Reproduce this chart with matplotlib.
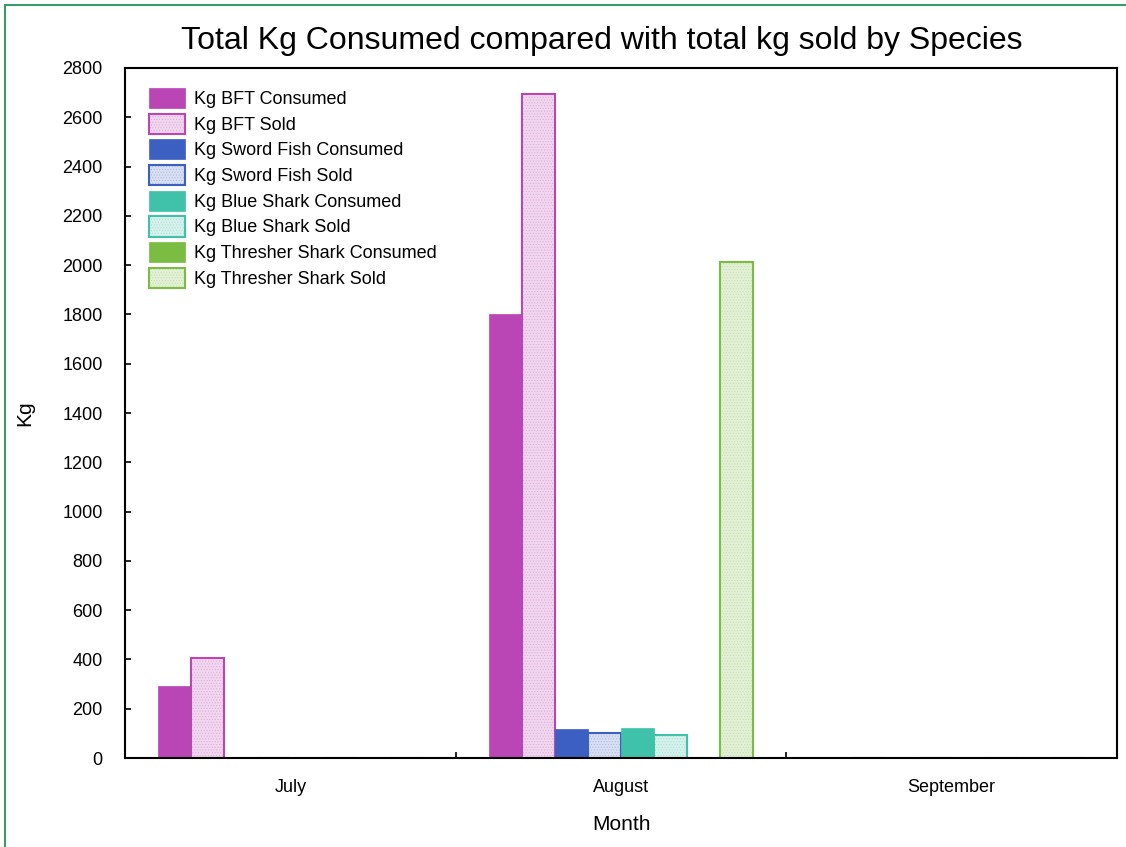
import numpy as np
import matplotlib.pyplot as plt
from matplotlib.patches import Rectangle

months = ["July", "August", "September"]
species = ["BFT", "Sword Fish", "Blue Shark", "Thresher Shark"]
consumed = {
    "BFT": [292, 1802, 0],
    "Sword Fish": [0, 116, 0],
    "Blue Shark": [0, 122, 0],
    "Thresher Shark": [0, 0, 0],
}
sold = {
    "BFT": [406, 2695, 0],
    "Sword Fish": [0, 100, 0],
    "Blue Shark": [0, 92, 0],
    "Thresher Shark": [0, 2012, 0],
}
dark = ["#b946b4", "#3c5fc2", "#3fc1aa", "#7bbd42"]
light = ["#f0d6ee", "#d8dff2", "#d6f1ec", "#e2f0d6"]
dots = ["#dcaad8", "#aab8e4", "#a8e0d6", "#c2deaa"]

plt.rcParams['font.family'] = ['Liberation Sans', 'DejaVu Sans']
plt.rcParams['hatch.linewidth'] = 0.4

fig = plt.figure(figsize=(11.26, 8.47), dpi=100)
ax = fig.add_axes([125 / 1126, 1 - 758 / 847, (1117 - 125) / 1126, (758 - 68) / 847])

x = np.arange(len(months)) + 0.5
w = 0.1
handles = []
labels = []
for i, sp in enumerate(species):
    off = (2 * i - 3.5) * w
    b1 = ax.bar(x + off, consumed[sp], w, color=dark[i], edgecolor=dark[i], linewidth=0.5)
    # sold bars: light dotted fill with a coloured outline on top
    b2 = ax.bar(x + off + w, sold[sp], w, facecolor=light[i], edgecolor=dots[i],
                hatch='......', linewidth=0)
    b3 = ax.bar(x + off + w, sold[sp], w, fill=False, edgecolor=dark[i], linewidth=1.5)
    handles.append(b1.patches[0])
    labels.append(f"Kg {sp} Consumed")
    handles.append((b2.patches[0], b3.patches[0]))
    labels.append(f"Kg {sp} Sold")

ax.set_xlim(0, 3)
ax.set_ylim(0, 2800)
ax.set_yticks(np.arange(0, 2801, 200))
ax.set_xticks(x)
ax.set_xticklabels(months)
ax.set_xticks([1, 2], minor=True)
ax.tick_params(axis='x', which='major', length=0, pad=15, labelsize=13)
ax.tick_params(axis='x', which='minor', direction='in', length=4, width=1.2)
ax.tick_params(axis='y', direction='in', length=4, width=1.2, labelsize=13, pad=16)
for s in ax.spines.values():
    s.set_linewidth(1.5)

ax.set_xlabel("Month", fontsize=15, labelpad=14)
ax.set_ylabel("Kg", fontsize=15, labelpad=20)
fig.text(602 / 1126, 1 - 41 / 847, "Total Kg Consumed compared with total kg sold by Species",
         fontsize=23, ha='center', va='center')

ax.legend(handles, labels, loc='upper left', bbox_to_anchor=(0.004, 1), frameon=False,
          fontsize=13, handlelength=2.0, handleheight=1.35, labelspacing=0.3,
          handletextpad=0.5, borderaxespad=0.7)

fig.patches.append(Rectangle((5 / 1126, -0.1), 1.2, 1.1 - 5 / 847, transform=fig.transFigure,
                             fill=False, edgecolor="#3a9a6a", linewidth=1.5))

fig.savefig("out.png", dpi=100)
